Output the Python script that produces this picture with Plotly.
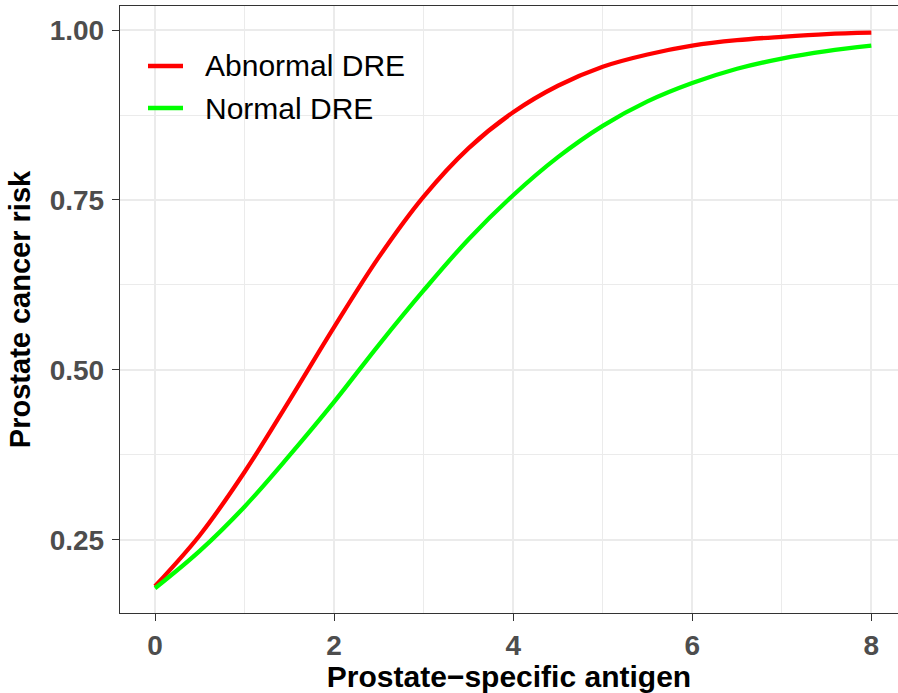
import plotly.graph_objects as go

psa = [0.0, 0.5, 1.0, 1.5, 2.0, 2.5, 3.0, 3.5, 4.0, 4.5, 5.0, 5.5, 6.0, 6.5, 7.0, 7.5, 8.0]
risk_abnormal = [0.182, 0.257, 0.350, 0.455, 0.563, 0.666, 0.755, 0.826, 0.879, 0.918, 0.946, 0.964, 0.977, 0.985, 0.990, 0.994, 0.996]
risk_normal = [0.179, 0.234, 0.299, 0.374, 0.453, 0.537, 0.617, 0.692, 0.757, 0.813, 0.859, 0.895, 0.922, 0.943, 0.958, 0.969, 0.977]
series_names = ["Abnormal DRE", "Normal DRE"]
series_colors = ["#FF0000", "#00FF00"]
x_ticks = [0, 2, 4, 6, 8]
y_ticks = [0.25, 0.50, 0.75, 1.00]
y_labels = ["0.25", "0.50", "0.75", "1.00"]

FONT = "Liberation Sans, Arial, sans-serif"
W, H = 898, 693
ML, MR, MT, MB = 120, 0, 6, 80
PW, PH = W - ML - MR, H - MT - MB

fig = go.Figure()
for name, ys, col in zip(series_names, [risk_abnormal, risk_normal], series_colors):
    fig.add_trace(go.Scatter(x=psa, y=ys, mode="lines", name=name, showlegend=False,
                             line=dict(color=col, width=4.3, shape="spline")))

# manual legend (ggplot-style, inside panel)
def px_x(p):
    return (p - ML) / PW

def px_y(p):
    return 1 - (p - MT) / PH

for i, (name, col) in enumerate(zip(series_names, series_colors)):
    yc = 66 + 42 * i
    fig.add_shape(type="line", xref="paper", yref="paper",
                  x0=px_x(148), x1=px_x(183), y0=px_y(yc), y1=px_y(yc),
                  line=dict(color=col, width=4.5))
    fig.add_annotation(xref="paper", yref="paper", x=px_x(203), y=px_y(yc),
                       xanchor="left", yanchor="middle", showarrow=False,
                       text=name, font=dict(size=30, color="black", family=FONT))

fig.update_layout(
    width=W, height=H,
    margin=dict(l=ML, r=MR, t=MT, b=MB),
    paper_bgcolor="white", plot_bgcolor="white",
    font=dict(family=FONT, color="black"),
    showlegend=False,
)
fig.update_xaxes(
    range=[-0.391, 8.298], tickvals=x_ticks, ticktext=[str(v) for v in x_ticks],
    showgrid=True, gridcolor="#EBEBEB", gridwidth=1.6,
    minor=dict(dtick=1, tick0=0, showgrid=True, gridcolor="#EBEBEB", gridwidth=0.8),
    showline=True, linecolor="#333333", linewidth=1.4, mirror=True,
    ticks="outside", ticklen=7, tickwidth=1.4, tickcolor="#333333",
    tickfont=dict(size=28, color="#4D4D4D", family=FONT, weight="bold"),
    title=dict(text="Prostate\u2212specific antigen", standoff=4,
               font=dict(size=30, color="black", family=FONT, weight="bold")),
    zeroline=False,
)
fig.update_yaxes(
    range=[0.1426, 1.0353], tickvals=y_ticks, ticktext=y_labels,
    showgrid=True, gridcolor="#EBEBEB", gridwidth=1.6,
    minor=dict(dtick=0.125, tick0=0.125, showgrid=True, gridcolor="#EBEBEB", gridwidth=0.8),
    showline=True, linecolor="#333333", linewidth=1.4, mirror=False,
    ticks="outside", ticklen=7, tickwidth=1.4, tickcolor="#333333",
    tickfont=dict(size=28, color="#4D4D4D", family=FONT, weight="bold"),
    ticklabelstandoff=2,
    title=dict(text="Prostate cancer risk", standoff=10,
               font=dict(size=29, color="black", family=FONT, weight="bold")),
    zeroline=False,
)

fig.write_html("out.html")
